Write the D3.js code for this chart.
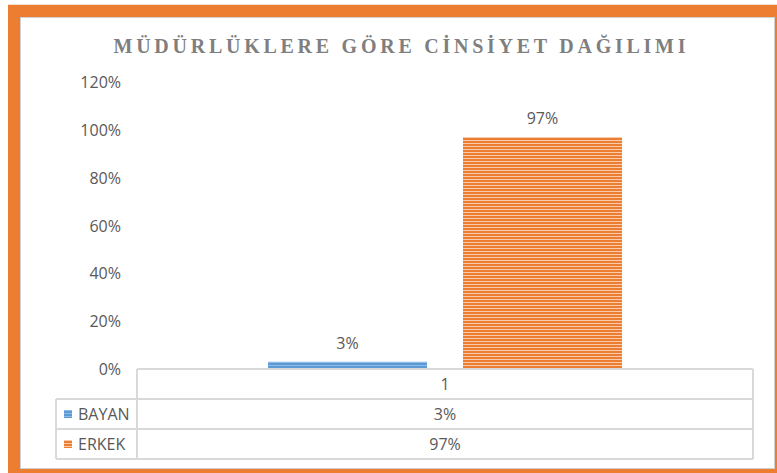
<!DOCTYPE html>
<html><head><meta charset="utf-8">
<script src="https://cdn.jsdelivr.net/npm/d3@7"></script>
<style>html,body{margin:0;padding:0;background:#fff;}svg{display:block;}</style>
</head><body>
<svg id="c" width="777" height="473"></svg>
<script>
const title = "MÜDÜRLÜKLERE GÖRE CİNSİYET DAĞILIMI";
const categories = ["1"];
const seriesNames = ["BAYAN", "ERKEK"];
const bayanValues = [0.03];
const erkekValues = [0.97];
const yTicks = [0, 0.2, 0.4, 0.6, 0.8, 1.0, 1.2];
const seriesColors = ["#5B9BD5", "#ED7D31"];
const seriesLight = ["#8DBBE4", "#F8CBAD"];

const series = [
  {name: seriesNames[0], values: bayanValues},
  {name: seriesNames[1], values: erkekValues}
];

const svg = d3.select("#c");
const font = "'Open Sans', 'Noto Sans', sans-serif";
const txt = "#595959";
const grid = "#D9D9D9";

// frame
svg.append("rect").attr("x",8).attr("y",5).attr("width",769).attr("height",468).attr("fill","#ED7D31");
svg.append("line").attr("x1",8).attr("x2",777).attr("y1",4.5).attr("y2",4.5).attr("stroke","#F3DDCF").attr("stroke-width",1);
svg.append("rect").attr("x",20.5).attr("y",17.5).attr("width",754).attr("height",451)
  .attr("fill","#fff").attr("stroke","#D0D0D0").attr("stroke-width",1);

// patterns
const defs = svg.append("defs");
series.forEach((s,i)=>{
  const p = defs.append("pattern").attr("id","pat"+i).attr("patternUnits","userSpaceOnUse")
    .attr("width",8).attr("height",3);
  p.append("rect").attr("width",8).attr("height",3).attr("fill",seriesLight[i]);
  p.append("rect").attr("width",8).attr("height",2).attr("fill",seriesColors[i]);
});

// title
svg.append("text").attr("x",401).attr("y",53).attr("text-anchor","middle")
  .attr("font-family","'Liberation Serif','DejaVu Serif',serif").attr("font-weight","bold")
  .attr("font-size",20).attr("fill","#7F7F7F").attr("letter-spacing","3px")
  .attr("textLength",575).attr("lengthAdjust","spacing")
  .text(title);

// scales
const y = d3.scaleLinear().domain([0,1.2]).range([369,82]);
const x0 = d3.scaleBand().domain(categories).range([137,753]);
const x1 = d3.scaleBand().domain(seriesNames).range([0,x0.bandwidth()]).paddingInner(0.1846).paddingOuter(0.672);

// y axis labels
const yAxis = d3.axisLeft(y).tickValues(yTicks).tickFormat(d3.format(".0%")).tickSize(0).tickPadding(0);
const ya = svg.append("g").attr("transform","translate(121,0)").call(yAxis);
ya.select(".domain").remove();
ya.selectAll("text").attr("font-family",font).attr("font-size",16).attr("fill",txt).attr("dy","0.35em");

// bars
categories.forEach((c,ci)=>{
  series.forEach((s,si)=>{
    const v = s.values[ci];
    const bx = x0(c)+x1(s.name);
    svg.append("rect").attr("x",bx).attr("y",y(v)).attr("width",x1.bandwidth()).attr("height",y(0)-y(v))
      .attr("fill","url(#pat"+si+")");
    svg.append("text").attr("x",bx+x1.bandwidth()/2).attr("y",y(v)-13).attr("text-anchor","middle")
      .attr("font-family",font).attr("font-size",16).attr("fill",txt).text(d3.format(".0%")(v));
  });
});

// data table
const rowH = 30;
const tableTop = y(0);
const legendLeft = 56;
const colLeft = 137, colRight = 753;
const rows = series.length + 1;
const g = svg.append("g").attr("stroke",grid).attr("stroke-width",2).attr("fill","none");
g.append("line").attr("x1",colLeft).attr("x2",colRight).attr("y1",tableTop).attr("y2",tableTop);
for (let r=1;r<=rows;r++){
  const yy = tableTop + r*rowH;
  g.append("line").attr("x1",legendLeft).attr("x2",colRight).attr("y1",yy).attr("y2",yy);
}
g.append("line").attr("x1",legendLeft).attr("x2",legendLeft).attr("y1",tableTop+rowH).attr("y2",tableTop+rows*rowH);
g.append("line").attr("x1",colLeft).attr("x2",colLeft).attr("y1",tableTop).attr("y2",tableTop+rows*rowH);
categories.forEach((c,ci)=>{
  const xr = x0(c)+x0.bandwidth();
  g.append("line").attr("x1",xr).attr("x2",xr).attr("y1",tableTop).attr("y2",tableTop+rows*rowH);
});
categories.forEach(c=>{
  svg.append("text").attr("x",x0(c)+x0.bandwidth()/2).attr("y",tableTop+rowH/2).attr("dy","0.35em")
    .attr("text-anchor","middle").attr("font-family",font).attr("font-size",16).attr("fill",txt).text(c);
});
series.forEach((s,si)=>{
  const cy = tableTop + (si+1)*rowH + rowH/2;
  svg.append("rect").attr("x",64).attr("y",cy-4).attr("width",8).attr("height",8).attr("fill","url(#pat"+si+")");
  svg.append("text").attr("x",78).attr("y",cy).attr("dy","0.35em").attr("font-family",font).attr("font-size",16)
    .attr("fill",txt).text(s.name);
  categories.forEach((c,ci)=>{
    svg.append("text").attr("x",x0(c)+x0.bandwidth()/2).attr("y",cy).attr("dy","0.35em")
      .attr("text-anchor","middle").attr("font-family",font).attr("font-size",16).attr("fill",txt)
      .text(d3.format(".0%")(s.values[ci]));
  });
});
</script>
</body></html>
